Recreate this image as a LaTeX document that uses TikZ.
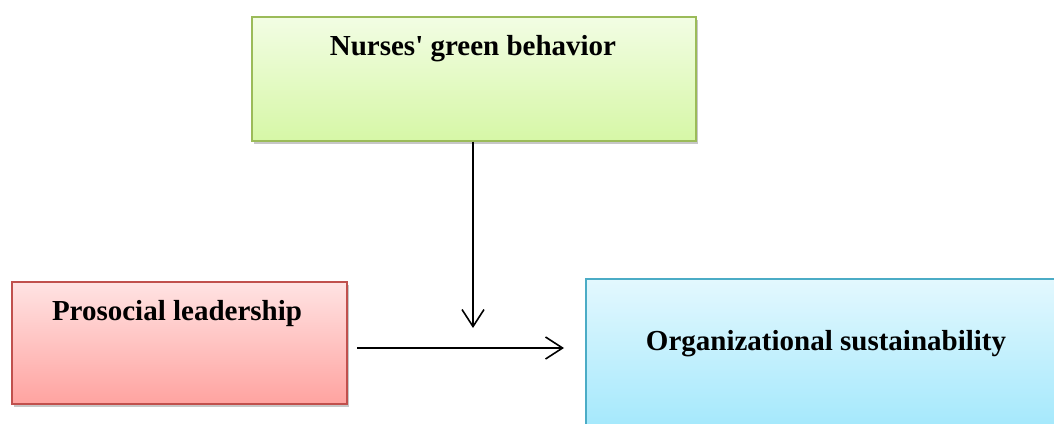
\documentclass[tikz,border=0pt]{standalone}
\usepackage{fontspec}
\setmainfont{Liberation Serif}[Ligatures=TeXOff]
\usetikzlibrary{arrows.meta,shadows}
\definecolor{gtop}{HTML}{F2FDE4}
\definecolor{gbot}{HTML}{D6F7A6}
\definecolor{gline}{HTML}{9BBB59}
\definecolor{rtop}{HTML}{FFE3E3}
\definecolor{rbot}{HTML}{FFA3A0}
\definecolor{rline}{HTML}{C0504D}
\definecolor{btop}{HTML}{E3F8FE}
\definecolor{bbot}{HTML}{A3E8FC}
\definecolor{bline}{HTML}{4BACC6}
\tikzset{
  box/.style={rectangle, draw=#1line, line width=1.3pt, top color=#1top, bottom color=#1bot,
    inner sep=0pt, drop shadow={shadow xshift=2pt, shadow yshift=-3pt, opacity=0.22, fill=black}},
  lbl/.style={font=\bfseries\fontsize{29}{32}\selectfont, anchor=base, inner sep=0pt},
  conn/.style={line width=1.6pt, -{Straight Barb[length=17pt,width=22pt,line width=1.6pt]}}
}
\begin{document}
\begin{tikzpicture}[x=1pt,y=-1pt]
\useasboundingbox (0,0) rectangle (1054,423);
\clip (0,0) rectangle (1054,423);
\node[box=g, minimum width=444pt, minimum height=124pt] (green) at (474,79) {};
\node[box=r, minimum width=335pt, minimum height=122pt] (red) at (179.5,343) {};
\node[box=b, minimum width=480pt, minimum height=152pt] (blue) at (826,355) {};
\node[lbl] (gt) at (473,55) {Nurses' green behavior};
\node[lbl] (rt) at (177,320) {Prosocial leadership};
\node[lbl] (bt) at (826,350) {Organizational sustainability};
\coordinate (vend) at (473,328);
\coordinate (hstart) at (357,348);
\coordinate (hend) at (564,348);
\draw[conn] (green.south -| vend) -- (vend);
\draw[conn] (hstart) -- (hend);
\end{tikzpicture}
\end{document}
